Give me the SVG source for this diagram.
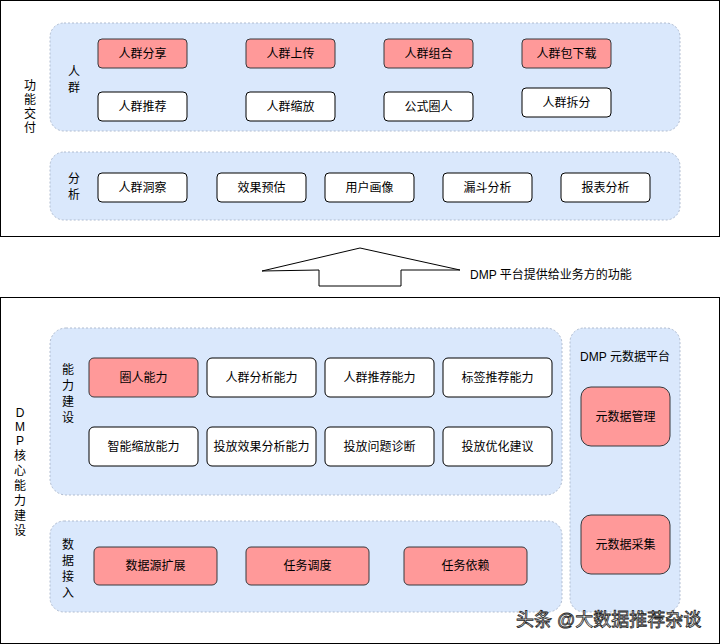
<svg xmlns="http://www.w3.org/2000/svg" width="720" height="644" viewBox="0 0 720 644">
<style>
text{font-family:"Liberation Sans","Noto Sans CJK SC",sans-serif;font-size:12px;fill:#000}
.c{text-anchor:middle;dominant-baseline:central}
.outer{fill:#fff;stroke:#000;stroke-width:1}
.grp{fill:#dae8fc;stroke:#b0bcd0;stroke-width:1;stroke-dasharray:2 2}
.w{fill:#fff;stroke:#000;stroke-width:1}
.r{fill:#ff9999;stroke:#36393d;stroke-width:1}
</style>
<rect class="outer" x="0.5" y="0.5" width="719" height="236"/>
<rect class="outer" x="0.5" y="297.5" width="719" height="346"/>
<g id="label-top"><text class="c" x="30" y="86">功</text><text class="c" x="30" y="100">能</text><text class="c" x="30" y="114">交</text><text class="c" x="30" y="128">付</text></g>
<g id="grp-renqun"><rect class="grp" x="50" y="23" width="630" height="108" rx="14"/><text class="c" x="74" y="72">人</text><text class="c" x="74" y="88">群</text></g>
<g id="grp-fenxi"><rect class="grp" x="50" y="152" width="630" height="68" rx="14"/><text class="c" x="74" y="179">分</text><text class="c" x="74" y="195">析</text></g>
<g id="n1"><rect class="r" x="98" y="39" width="89" height="29" rx="4"/><text class="c" x="142.5" y="53.5">人群分享</text></g>
<g id="n2"><rect class="r" x="246" y="39" width="89" height="29" rx="4"/><text class="c" x="290.5" y="53.5">人群上传</text></g>
<g id="n3"><rect class="r" x="384" y="39" width="89" height="29" rx="4"/><text class="c" x="428.5" y="53.5">人群组合</text></g>
<g id="n4"><rect class="r" x="522" y="39" width="89" height="29" rx="4"/><text class="c" x="566.5" y="53.5">人群包下载</text></g>
<g id="n5"><rect class="w" x="98" y="92" width="89" height="29" rx="4"/><text class="c" x="142.5" y="106.5">人群推荐</text></g>
<g id="n6"><rect class="w" x="246" y="92" width="89" height="29" rx="4"/><text class="c" x="290.5" y="106.5">人群缩放</text></g>
<g id="n7"><rect class="w" x="384" y="92" width="89" height="29" rx="4"/><text class="c" x="428.5" y="106.5">公式圈人</text></g>
<g id="n8"><rect class="w" x="522" y="88" width="89" height="29" rx="4"/><text class="c" x="566.5" y="102.5">人群拆分</text></g>
<g id="n9"><rect class="w" x="98" y="173" width="89" height="29" rx="4"/><text class="c" x="142.5" y="187.5">人群洞察</text></g>
<g id="n10"><rect class="w" x="217" y="173" width="89" height="29" rx="4"/><text class="c" x="261.5" y="187.5">效果预估</text></g>
<g id="n11"><rect class="w" x="325" y="173" width="89" height="29" rx="4"/><text class="c" x="369.5" y="187.5">用户画像</text></g>
<g id="n12"><rect class="w" x="443" y="173" width="89" height="29" rx="4"/><text class="c" x="487.5" y="187.5">漏斗分析</text></g>
<g id="n13"><rect class="w" x="561" y="173" width="89" height="29" rx="4"/><text class="c" x="605.5" y="187.5">报表分析</text></g>
<g id="connectors"><polygon points="262,271 360,248 460,270 401,270 401,286 319,286 319,270" fill="#fff" stroke="#000" stroke-width="1"/></g>
<text x="470" y="279">DMP 平台提供给业务方的功能</text>
<g id="label-bottom"><text class="c" x="20" y="413">D</text><text class="c" x="20" y="427">M</text><text class="c" x="20" y="441">P</text><text class="c" x="20" y="456">核</text><text class="c" x="20" y="471">心</text><text class="c" x="20" y="486">能</text><text class="c" x="20" y="501">力</text><text class="c" x="20" y="516">建</text><text class="c" x="20" y="531">设</text></g>
<g id="grp-nengli"><rect class="grp" x="50" y="328" width="512" height="167" rx="16"/><text class="c" x="68" y="370">能</text><text class="c" x="68" y="386">力</text><text class="c" x="68" y="402">建</text><text class="c" x="68" y="418">设</text></g>
<g id="grp-shuju"><rect class="grp" x="50" y="521" width="512" height="91" rx="14"/><text class="c" x="68" y="545">数</text><text class="c" x="68" y="561">据</text><text class="c" x="68" y="577">接</text><text class="c" x="68" y="593">入</text></g>
<g id="grp-meta"><rect class="grp" x="570" y="328" width="110" height="284" rx="14"/><text class="c" x="625" y="357">DMP 元数据平台</text></g>
<g id="m1"><rect class="r" x="89" y="358" width="109" height="39" rx="5"/><text class="c" x="143.5" y="377.5">圈人能力</text></g>
<g id="m2"><rect class="w" x="207" y="358" width="109" height="39" rx="5"/><text class="c" x="261.5" y="377.5">人群分析能力</text></g>
<g id="m3"><rect class="w" x="325" y="358" width="109" height="39" rx="5"/><text class="c" x="379.5" y="377.5">人群推荐能力</text></g>
<g id="m4"><rect class="w" x="443" y="358" width="109" height="39" rx="5"/><text class="c" x="497.5" y="377.5">标签推荐能力</text></g>
<g id="m5"><rect class="w" x="89" y="427" width="109" height="39" rx="5"/><text class="c" x="143.5" y="446.5">智能缩放能力</text></g>
<g id="m6"><rect class="w" x="207" y="427" width="109" height="39" rx="5"/><text class="c" x="261.5" y="446.5">投放效果分析能力</text></g>
<g id="m7"><rect class="w" x="325" y="427" width="109" height="39" rx="5"/><text class="c" x="379.5" y="446.5">投放问题诊断</text></g>
<g id="m8"><rect class="w" x="443" y="427" width="109" height="39" rx="5"/><text class="c" x="497.5" y="446.5">投放优化建议</text></g>
<g id="d1"><rect class="r" x="94" y="547" width="123" height="38" rx="5"/><text class="c" x="155.5" y="566">数据源扩展</text></g>
<g id="d2"><rect class="r" x="246" y="547" width="123" height="38" rx="5"/><text class="c" x="307.5" y="566">任务调度</text></g>
<g id="d3"><rect class="r" x="404" y="547" width="123" height="38" rx="5"/><text class="c" x="465.5" y="566">任务依赖</text></g>
<g id="e1"><rect class="r" x="581" y="387" width="89" height="59" rx="10"/><text class="c" x="625.5" y="416.5">元数据管理</text></g>
<g id="e2"><rect class="r" x="581" y="515" width="89" height="59" rx="10"/><text class="c" x="625.5" y="544.5">元数据采集</text></g>
<text x="516" y="626" style="font-size:18px;fill:#fff;stroke:#222;stroke-width:0.8">头条 @大数据推荐杂谈</text>
</svg>
